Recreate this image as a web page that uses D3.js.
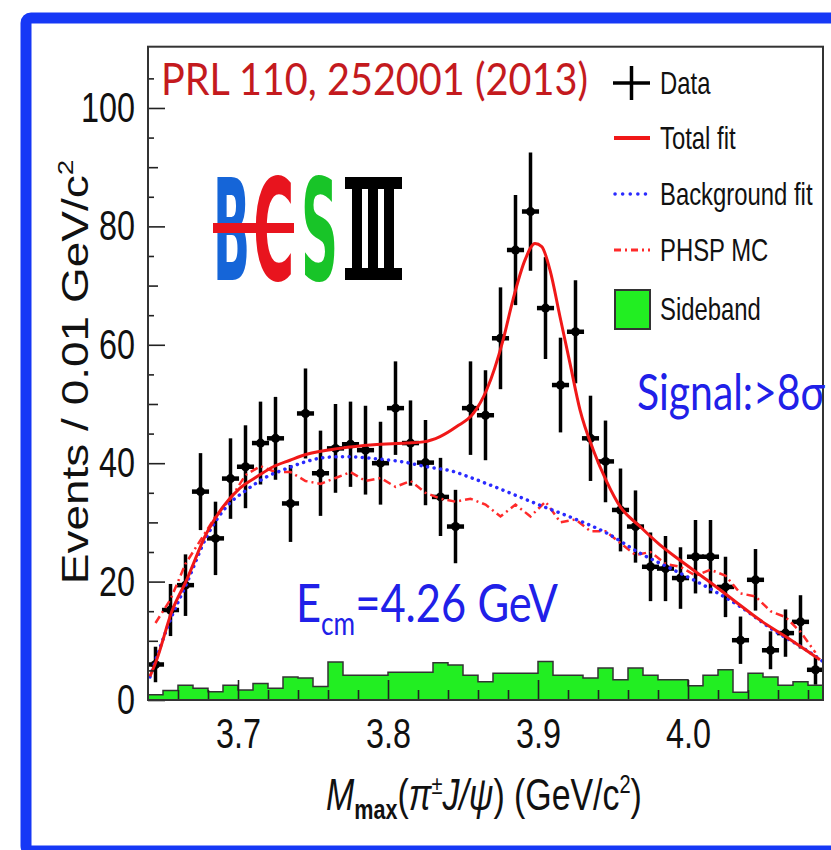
<!DOCTYPE html>
<html>
<head>
<meta charset="utf-8">
<script src="https://cdn.jsdelivr.net/npm/d3@7"></script>
<style>
  body { margin: 0; background: #fff; }
  svg { display: block; }
</style>
</head>
<body>
<div id="chart"></div>
<script>
// bin centres, GeV/c^2 (bins are 0.01 wide)
const mass = [3.645, 3.655, 3.665, 3.675, 3.685, 3.695, 3.705, 3.715, 3.725, 3.735,
              3.745, 3.755, 3.765, 3.775, 3.785, 3.795, 3.805, 3.815, 3.825, 3.835,
              3.845, 3.855, 3.865, 3.875, 3.885, 3.895, 3.905, 3.915, 3.925, 3.935,
              3.945, 3.955, 3.965, 3.975, 3.985, 3.995, 4.005, 4.015, 4.025, 4.035,
              4.045, 4.055, 4.065, 4.075, 4.085];
// data points and their error bars
const events = [6.0, 15.2, 19.4, 35.2, 27.3, 37.4, 39.4, 43.4, 44.2, 33.2,
                48.4, 38.3, 42.5, 43.2, 42.2, 40.0, 49.3, 43.4, 40.1, 34.3,
                29.3, 49.3, 48.1, 61.1, 76.0, 82.5, 66.2, 53.2, 62.2, 44.2,
                40.3, 32.1, 29.3, 22.5, 22.2, 20.6, 24.2, 24.2, 19.1, 10.1,
                20.3, 8.4, 11.3, 13.2, 5.1];
const errors = [3.0, 4.4, 5.2, 6.5, 6.2, 6.8, 7.0, 7.0, 7.0, 6.5,
                7.6, 7.2, 7.5, 7.2, 7.5, 7.0, 7.9, 7.2, 7.2, 6.6,
                6.2, 7.9, 7.6, 8.6, 9.3, 10.0, 8.6, 8.0, 8.7, 7.2,
                6.9, 7.0, 6.1, 5.8, 5.5, 5.2, 6.2, 6.2, 5.1, 4.0,
                5.2, 3.2, 4.0, 4.5, 2.5];
// sideband histogram
const sideband = [0.9, 1.6, 2.5, 2.0, 1.4, 2.5, 1.7, 2.8, 2.0, 3.9,
                  3.7, 2.3, 6.4, 4.2, 4.2, 4.2, 4.7, 4.7, 4.7, 6.3,
                  5.9, 4.2, 3.1, 4.5, 4.5, 4.5, 6.5, 4.2, 4.2, 3.7,
                  5.4, 3.4, 5.4, 4.2, 3.4, 3.4, 2.4, 4.2, 5.1, 1.3,
                  4.5, 3.9, 2.5, 3.1, 2.5];
// PHSP MC, per bin
const phsp = [13, 17, 23, 27, 31, 34, 38, 39.5, 38.5, 38.5,
              37, 36.5, 37.5, 38.5, 37, 37.5, 36, 37, 35, 34,
              33.5, 34, 33, 31, 33, 31, 33.5, 30, 30.5, 28.5,
              28.5, 26.5, 24.5, 25, 23, 22.5, 21, 22, 21, 18,
              17.5, 15, 14, 11.5, 8];
// total fit curve
const fitMass = [3.6413, 3.6458, 3.6558, 3.6658, 3.6791, 3.6902, 3.7013, 3.7125, 3.7235, 3.7347,
                 3.7458, 3.768, 3.7902, 3.8125, 3.8235, 3.8347, 3.8458, 3.8569, 3.8658, 3.8767,
                 3.8833, 3.8913, 3.898, 3.9025, 3.908, 3.9147, 3.9213, 3.928, 3.9369, 3.9458,
                 3.9547, 3.968, 3.9813, 3.9947, 4.0125, 4.0302, 4.048, 4.0658, 4.088];
const fitVals = [4.0, 6.8, 14.9, 20.3, 28.2, 32.7, 35.8, 37.7, 39.4, 40.5,
                 41.5, 42.5, 43.1, 43.4, 43.6, 44.5, 46.2, 48.4, 52.4, 60.8,
                 67.6, 74.3, 77.1, 76.6, 72.6, 64.7, 56.9, 49.0, 42.2, 36.9,
                 32.7, 29.3, 26.2, 23.6, 20.3, 16.9, 13.5, 10.6, 6.8];
// background fit curve
const bkgMass = [3.6413, 3.6558, 3.6658, 3.6791, 3.6925, 3.7058, 3.7191, 3.7325, 3.7458, 3.7591,
                 3.7725, 3.7902, 3.808, 3.8258, 3.8435, 3.8569, 3.8791, 3.9013, 3.9235, 3.9458,
                 3.968, 3.9902, 4.0125, 4.0347, 4.0569, 4.0791, 4.09];
const bkgVals = [3.9, 14.1, 19.7, 27.6, 32.7, 35.5, 37.7, 39.1, 40.3, 41.0,
                 41.1, 40.8, 40.3, 39.4, 38.6, 37.4, 35.2, 32.9, 30.7, 28.2,
                 24.8, 22.0, 19.1, 15.8, 11.8, 8.4, 6.5];

const xTicks = [3.7, 3.8, 3.9, 4.0];
const yTicks = [0, 20, 40, 60, 80, 100];
const legendLabels = ["Data", "Total fit", "Background fit", "PHSP MC", "Sideband"];

const SQ = 0.77;   // the original plot is squeezed horizontally
const ROOTFONT = "'Liberation Sans', Arial, sans-serif";
const RED = "#f01818", BLUE = "#2a2aff", GREEN = "#22ee22";

const svg = d3.select("#chart").append("svg")
    .attr("width", 831)
    .attr("height", 850);

// blue outer frame
svg.append("rect")
    .attr("x", 26).attr("y", 18)
    .attr("width", 850).attr("height", 833)
    .attr("rx", 5)
    .attr("fill", "none")
    .attr("stroke", "#1638f6")
    .attr("stroke-width", 11);

const x = d3.scaleLinear().domain([3.64, 4.09]).range([148, 823]);
const y = d3.scaleLinear().domain([0, 110.35]).range([700, 46.7]);

svg.append("clipPath").attr("id", "plot")
    .append("rect")
    .attr("x", x.range()[0]).attr("y", y.range()[1])
    .attr("width", x.range()[1] - x.range()[0])
    .attr("height", y.range()[0] - y.range()[1]);

const plot = svg.append("g").attr("clip-path", "url(#plot)");

// sideband histogram
const sb = mass.map((m, i) => ({ m: m - 0.005, v: sideband[i] }));
sb.push({ m: mass[mass.length - 1] + 0.005, v: sideband[sideband.length - 1] });
plot.append("path")
    .datum(sb)
    .attr("fill", GREEN)
    .attr("d", d3.area().curve(d3.curveStepAfter)
        .x(d => x(d.m)).y0(y(0)).y1(d => y(d.v)));
plot.append("path")
    .datum(sb)
    .attr("fill", "none")
    .attr("stroke", "#333")
    .attr("stroke-width", 1.5)
    .attr("d", d3.line().curve(d3.curveStepAfter).x(d => x(d.m)).y(d => y(d.v)));

// data points
const pts = plot.append("g").selectAll("g")
    .data(mass.map((m, i) => ({ m: m, v: events[i], e: errors[i] })))
    .join("g");
pts.append("line")
    .attr("x1", d => x(d.m)).attr("x2", d => x(d.m))
    .attr("y1", d => y(d.v - d.e)).attr("y2", d => y(d.v + d.e))
    .attr("stroke", "#000").attr("stroke-width", 3.5);
pts.append("line")
    .attr("x1", d => x(d.m - 0.0057)).attr("x2", d => x(d.m + 0.0057))
    .attr("y1", d => y(d.v)).attr("y2", d => y(d.v))
    .attr("stroke", "#000").attr("stroke-width", 4.5);
pts.append("circle")
    .attr("cx", d => x(d.m)).attr("cy", d => y(d.v))
    .attr("r", 4.5).attr("fill", "#000");

// PHSP MC
plot.append("path")
    .datum(mass.map((m, i) => [m, phsp[i]]))
    .attr("fill", "none")
    .attr("stroke", "#ff2a2a")
    .attr("stroke-width", 2.5)
    .attr("stroke-dasharray", "8,4,2,4")
    .attr("d", d3.line().x(d => x(d[0])).y(d => y(d[1])));

// background fit
plot.append("path")
    .datum(bkgMass.map((m, i) => [m, bkgVals[i]]))
    .attr("fill", "none")
    .attr("stroke", BLUE)
    .attr("stroke-width", 3.5)
    .attr("stroke-linecap", "round")
    .attr("stroke-dasharray", "0.1,6.5")
    .attr("d", d3.line().curve(d3.curveMonotoneX).x(d => x(d[0])).y(d => y(d[1])));

// total fit
plot.append("path")
    .datum(fitMass.map((m, i) => [m, fitVals[i]]))
    .attr("fill", "none")
    .attr("stroke", RED)
    .attr("stroke-width", 3)
    .attr("d", d3.line().curve(d3.curveMonotoneX).x(d => x(d[0])).y(d => y(d[1])));

// axes
function styleAxis(g) {
    g.select(".domain").remove();
    g.selectAll(".tick line").attr("stroke", "#222").attr("stroke-width", 1.6);
    g.selectAll("text")
        .attr("font-family", ROOTFONT)
        .attr("font-size", 42)
        .attr("fill", "#111")
        .attr("transform", `scale(${SQ},1)`);
}
const yMid = [10, 30, 50, 70, 90];
const yMinor = [5, 15, 25, 35, 45, 55, 65, 75, 85, 95, 105];
svg.append("g").attr("transform", `translate(${x.range()[0]},0)`)
    .call(d3.axisLeft(y).tickValues(yMinor).tickSize(-6).tickFormat(""))
    .call(styleAxis);
svg.append("g").attr("transform", `translate(${x.range()[0]},0)`)
    .call(d3.axisLeft(y).tickValues(yMid).tickSize(-10).tickFormat(""))
    .call(styleAxis);
svg.append("g").attr("transform", `translate(${x.range()[0]},0)`)
    .call(d3.axisLeft(y).tickValues(yTicks).tickSize(-17).tickPadding(17).tickFormat(d3.format("d")))
    .call(styleAxis);

const xMinor = d3.range(3.66, 4.09, 0.02).map(v => +v.toFixed(2))
    .filter(v => !xTicks.some(t => Math.abs(t - v) < 1e-6));
svg.append("g").attr("transform", `translate(0,${y.range()[0]})`)
    .call(d3.axisBottom(x).tickValues(xMinor).tickSize(-10).tickFormat(""))
    .call(styleAxis);
svg.append("g").attr("transform", `translate(0,${y.range()[0]})`)
    .call(d3.axisBottom(x).tickValues(xTicks).tickSize(-20).tickPadding(18).tickFormat(d3.format(".1f")))
    .call(styleAxis);

// plot frame
svg.append("rect")
    .attr("x", x.range()[0]).attr("y", y.range()[1])
    .attr("width", x.range()[1] - x.range()[0])
    .attr("height", y.range()[0] - y.range()[1])
    .attr("fill", "none")
    .attr("stroke", "#333")
    .attr("stroke-width", 2);

// axis titles
const yt = svg.append("text")
    .attr("transform", "translate(88,372) scale(0.82,1) rotate(-90)")
    .attr("text-anchor", "middle")
    .attr("font-family", ROOTFONT)
    .attr("font-size", 46)
    .attr("fill", "#111");
yt.append("tspan").text("Events / 0.01  GeV/c");
yt.append("tspan").attr("font-size", 28).attr("dy", -18).text("2");

const xt = svg.append("text")
    .attr("transform", `translate(484,810) scale(${SQ},1)`)
    .attr("text-anchor", "middle")
    .attr("font-family", ROOTFONT)
    .attr("font-size", 44)
    .attr("fill", "#111");
xt.append("tspan").attr("font-style", "italic").text("M");
xt.append("tspan").attr("font-size", 28).attr("font-weight", "bold").attr("dy", 9).text("max");
xt.append("tspan").attr("dy", -9).text("(");
xt.append("tspan").attr("font-style", "italic").text("π");
xt.append("tspan").attr("font-size", 26).attr("dy", -16).text("±");
xt.append("tspan").attr("font-style", "italic").attr("dy", 16).text("J/ψ");
xt.append("tspan").text(") (GeV/c");
xt.append("tspan").attr("font-size", 26).attr("dy", -17).text("2");
xt.append("tspan").attr("dy", 17).text(")");

// legend
const lg = svg.append("g");
const rowY = [83, 138, 194, 250, 309];
lg.append("line").attr("x1", 613).attr("x2", 650).attr("y1", rowY[0]).attr("y2", rowY[0])
    .attr("stroke", "#000").attr("stroke-width", 3.5);
lg.append("line").attr("x1", 631.5).attr("x2", 631.5).attr("y1", rowY[0] - 17).attr("y2", rowY[0] + 17)
    .attr("stroke", "#000").attr("stroke-width", 3.5);
lg.append("line").attr("x1", 614).attr("x2", 650).attr("y1", rowY[1]).attr("y2", rowY[1])
    .attr("stroke", RED).attr("stroke-width", 4);
lg.append("line").attr("x1", 615).attr("x2", 650).attr("y1", rowY[2]).attr("y2", rowY[2])
    .attr("stroke", BLUE).attr("stroke-width", 3.5).attr("stroke-linecap", "round")
    .attr("stroke-dasharray", "0.1,7.5");
lg.append("line").attr("x1", 614).attr("x2", 650).attr("y1", rowY[3]).attr("y2", rowY[3])
    .attr("stroke", "#ff2a2a").attr("stroke-width", 3).attr("stroke-dasharray", "7,4,2,4");
lg.append("rect").attr("x", 615).attr("y", rowY[4] - 19).attr("width", 35).attr("height", 39)
    .attr("fill", GREEN).attr("stroke", "#333").attr("stroke-width", 2);
lg.selectAll("g.lab")
    .data(legendLabels)
    .join("g")
    .attr("class", "lab")
    .attr("transform", (d, i) => `translate(660,${rowY[i] + 11}) scale(${SQ},1)`)
    .append("text")
    .attr("font-family", ROOTFONT)
    .attr("font-size", 31)
    .attr("fill", "#111")
    .text(d => d);

// annotations
svg.append("text")
    .attr("x", 161).attr("y", 95)
    .attr("font-family", "Lato, 'Open Sans', sans-serif")
    .attr("font-size", 45)
    .attr("fill", "#c41a1e")
    .attr("textLength", 427)
    .attr("lengthAdjust", "spacingAndGlyphs")
    .text("PRL 110, 252001 (2013)");

// squeeze "Signal" with a transform so it ends just inside the page
const sigG = svg.append("g");
const sig = sigG.append("text")
    .attr("font-family", "Lato, 'Open Sans', sans-serif")
    .attr("font-size", 50)
    .attr("fill", "#2020e8")
    .text("Signal:>8σ");
const sigW = sig.node().getComputedTextLength() || 240;
sigG.attr("transform", `translate(637,410) scale(${(188 / sigW).toFixed(3)},1)`);

const ecm = svg.append("text")
    .attr("transform", "translate(296,622) scale(0.82,1)")
    .attr("font-family", "Lato, 'Open Sans', sans-serif")
    .attr("font-size", 53)
    .attr("fill", "#2020e8");
ecm.append("tspan").text("E");
ecm.append("tspan").attr("font-size", 32).attr("dy", 13).text("cm");
ecm.append("tspan").attr("dy", -13).text("=4.26 GeV");

// BESIII logo (letters squeezed with a transform, not textLength)
const logo = svg.append("g").attr("transform", "translate(213,177)");
const letters = [
    { ch: "B", x: 0, sx: 0.345, fill: "#1565d8" },
    { ch: "C", x: 40, sx: 0.40, fill: "#e8141e" },
    { ch: "S", x: 88, sx: 0.365, fill: "#18c428" }
];
logo.selectAll("g.letter")
    .data(letters)
    .join("g")
    .attr("class", "letter")
    .attr("transform", d => `translate(${d.x},103) scale(${d.sx},1)`)
    .append("text")
    .attr("font-family", "'DejaVu Sans', sans-serif")
    .attr("font-weight", "bold")
    .attr("font-size", 141)
    .attr("fill", d => d.fill)
    .text(d => d.ch);
logo.append("rect").attr("x", 0).attr("y", 46).attr("width", 81).attr("height", 10).attr("fill", "#e8141e");
const roman = logo.append("g").attr("fill", "#000");
roman.append("rect").attr("x", 132).attr("y", 0).attr("width", 57).attr("height", 12);
roman.append("rect").attr("x", 132).attr("y", 91).attr("width", 57).attr("height", 12);
[139, 155, 171].forEach(sx => roman.append("rect").attr("x", sx).attr("y", 0).attr("width", 10).attr("height", 103));
</script>
</body>
</html>
